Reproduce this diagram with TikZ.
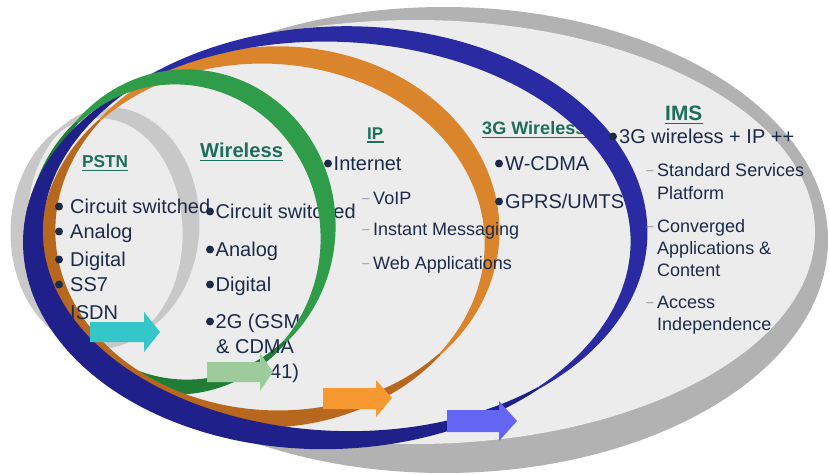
\documentclass[tikz,border=0pt]{standalone}
\usepackage{fontspec}
\setmainfont{Liberation Sans}

\definecolor{shadowgrey}{HTML}{B2B2B2}
\definecolor{panel}{HTML}{ECECEC}
\definecolor{pstnring}{HTML}{C8C8C8}
\definecolor{greenfront}{HTML}{2E9C48}
\definecolor{greenback}{HTML}{1F7D36}
\definecolor{orangefront}{HTML}{DA842C}
\definecolor{orangeback}{HTML}{B8681E}
\definecolor{bluefront}{HTML}{2A2AA3}
\definecolor{blueback}{HTML}{20208A}
\definecolor{cyanarrow}{HTML}{34C6C9}
\definecolor{greenarrow}{HTML}{9ECB9B}
\definecolor{orangearrow}{HTML}{F7972F}
\definecolor{bluearrow}{HTML}{6565F3}
\definecolor{bodytext}{HTML}{1C2B4A}
\definecolor{headtext}{HTML}{1E6E5C}
\definecolor{dashgrey}{HTML}{8A8F99}

% A ribbon piece: centre (#1,#2), radii #3/#4, angles #5..#6,
% width function #7, colour #8
\newcommand\drawribbon[8]{%
  \fill[#8] plot[domain=#5:#6, samples=90, variable=\t]
      ({#1+(#3+0.5*#7(\t))*cos(\t)}, {#2+(#4+0.5*#7(\t))*sin(\t)})
    -- plot[domain=#6:#5, samples=90, variable=\t]
      ({#1+(#3-0.5*#7(\t))*cos(\t)}, {#2+(#4-0.5*#7(\t))*sin(\t)})
    -- cycle;}

\begin{document}
\begin{tikzpicture}[x=0.03cm, y=-0.03cm,
  declare function={
    wpstn(\a)=3+16*abs(sin(\a-60));
    wgreen(\a)=3+17*abs(sin(\a-45));
    worange(\a)=2+20*abs(sin(\a-40));
    wbluef(\a)=2+20*abs(sin(\a-48));
    wblueb(\a)=2+24*abs(sin(\a-48));
  },
  txt/.style={inner sep=0, anchor=base west, text=bodytext,
    font=\fontsize{17.07}{20}\selectfont},
  subtxt/.style={inner sep=0, anchor=base west, text=bodytext,
    font=\fontsize{15.36}{18}\selectfont},
  dot/.style={circle, fill=bodytext, inner sep=0, minimum size=6.8pt},
  subdash/.style={inner sep=0, anchor=base, text=dashgrey,
    font=\fontsize{11}{12}\selectfont},
  head/.style={inner sep=0, anchor=base west, text=headtext,
    font=\bfseries\fontsize{#1}{#1}\selectfont},
  uline/.style={draw=headtext, line width=1.6pt},
  blockarrow/.style={fill=#1}
]
\fill[white] (0,0) rectangle (830,474);
\useasboundingbox (0,0) rectangle (830,474);

% background panel with its shadow
\fill[shadowgrey] (444,240) ellipse [x radius=384, y radius=233];
\fill[panel] (415,232) ellipse [x radius=400, y radius=212];

% PSTN ring
\drawribbon{105}{228}{86}{115}{60}{420}{wpstn}{pstnring}

% back halves of the wireless and IP ribbons
\drawribbon{181}{232}{147}{155}{45}{225}{wgreen}{greenback}
\drawribbon{270}{237}{222}{182}{40}{220}{worange}{orangeback}
\drawribbon{270}{237}{222}{182}{220}{400}{worange}{orangefront}

% PSTN column
\node[head=14.7] (hpstn) at (82,167) {PSTN};
\draw[uline] ([yshift=-2.6pt]hpstn.south west) -- ([yshift=-2.6pt]hpstn.south east);
\foreach \yy/\lab [count=\i] in {213/Circuit switched, 238/Analog, 266/Digital, 291/SS7, 319/ISDN}{
  \node[dot] (pb\i) at (59,\yy-6.5) {};
  \node[txt] (pt\i) at (70,\yy) {\lab};
}

% Wireless column
\node[head=17.2] (hwl) at (200,157) {Wireless};
\draw[uline] ([yshift=-2.6pt]hwl.south west) -- ([yshift=-2.6pt]hwl.south east);
\foreach \yy/\lab [count=\i] in {218/Circuit switched, 256/Analog, 291/Digital, 328/2G (GSM}{
  \node[dot] (wb\i) at (210,\yy-6.5) {};
  \node[txt] (wt\i) at (215.5,\yy) {\lab};
}
\node[txt] (wt5) at (216,353) {\& CDMA};
\node[txt] (wt6) at (270,378) {41)};

% IP column
\node[head=14.5] (hip) at (367,139) {IP};
\draw[uline] ([yshift=-2.6pt]hip.south west) -- ([yshift=-2.6pt]hip.south east);
\node[dot] (ib1) at (328,170-6.5) {};
\node[txt] (it1) at (333.5,170) {Internet};
\foreach \yy/\lab [count=\i] in {204/VoIP, 235.5/Instant Messaging, 269.5/Web Applications}{
  \node[subdash] (id\i) at (366,\yy-2) {–};
  \node[subtxt] (is\i) at (373,\yy) {\lab};
}

% 3G column
\node[head=15.4] (h3g) at (482,134) {3G Wireless};
\draw[uline] ([yshift=-2.6pt]h3g.south west) -- ([yshift=-2.6pt]h3g.south east);
\node[dot] (gb1) at (499,170-6.5) {};
\node[txt] (gt1) at (505,170) {W-CDMA};
\node[dot] (gb2) at (499,208-6.5) {};
\node[txt] (gt2) at (505,208) {GPRS/UMTS};

% 3G ribbon
\drawribbon{336}{237}{303}{203}{48}{228}{wblueb}{blueback}
\drawribbon{336}{237}{303}{203}{228}{408}{wbluef}{bluefront}

% IMS column
\node[head=17.8] (hims) at (665,120) {IMS};
\draw[uline] ([yshift=-2.6pt]hims.south west) -- ([yshift=-2.6pt]hims.south east);
\node[dot] (mb1) at (613,143-6.5) {};
\node[txt] (mt1) at (619,143) {3G wireless + IP ++};
\node[subdash] (md1) at (650,174.5) {–};
\node[subtxt] (ms1) at (657,176.5) {Standard Services};
\node[subtxt] (ms2) at (657,199) {Platform};
\node[subdash] (md2) at (650,230) {–};
\node[subtxt] (ms3) at (657,232) {Converged};
\node[subtxt] (ms4) at (657,254) {Applications \&};
\node[subtxt] (ms5) at (657,276) {Content};
\node[subdash] (md3) at (650,306.5) {–};
\node[subtxt] (ms6) at (657,308.5) {Access};
\node[subtxt] (ms7) at (657,330) {Independence};

% front half of the wireless ribbon
\drawribbon{181}{232}{147}{155}{225}{405}{wgreen}{greenfront}

% block arrows at the ribbon ends
\fill[blockarrow=cyanarrow] (90,322) -- (144,322) -- (144,312) -- (160,332)
  -- (144,352) -- (144,342) -- (90,342) -- cycle;
\fill[blockarrow=greenarrow] (207,362) -- (260,362) -- (260,353) -- (273,372)
  -- (260,391) -- (260,382) -- (207,382) -- cycle;
\fill[blockarrow=orangearrow] (323,388) -- (376,388) -- (376,380) -- (392,398)
  -- (376,417) -- (376,409) -- (323,409) -- cycle;
\fill[blockarrow=bluearrow] (447,410) -- (499,410) -- (499,401) -- (517,421)
  -- (499,441) -- (499,432) -- (447,432) -- cycle;
\end{tikzpicture}
\end{document}
